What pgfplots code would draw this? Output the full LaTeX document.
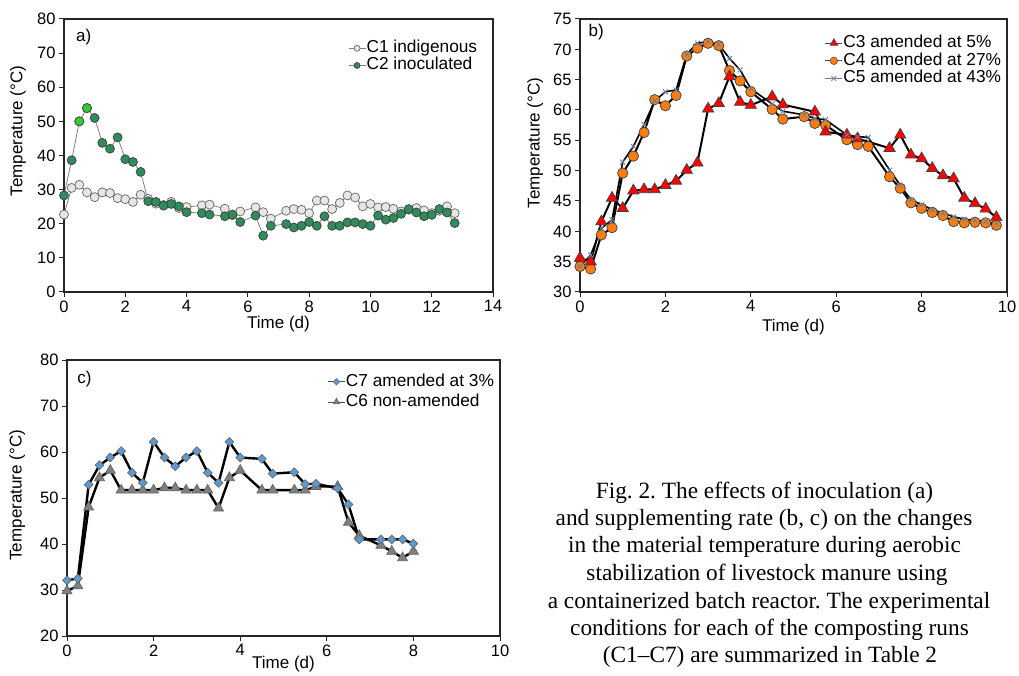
\documentclass[border=0pt]{standalone}
\usepackage{fontspec}
\setmainfont{Liberation Sans}
\newfontfamily\capfont{Liberation Serif}
\usepackage{pgfplots}
\pgfplotsset{compat=1.18}

\definecolor{gline}{HTML}{808080}
\definecolor{cone}{HTML}{E6E6E6}
\definecolor{ctwo}{HTML}{2E8B5A}
\definecolor{cbright}{HTML}{33CC33}
\definecolor{cthree}{HTML}{FF0000}
\definecolor{cfour}{HTML}{FA7D0F}
\definecolor{cfive}{HTML}{6A7FA0}
\definecolor{cseven}{HTML}{5B9BD5}
\definecolor{csix}{HTML}{7F7F7F}

\pgfplotsset{
  panel/.style={
    scale only axis,
    axis line style={line width=1.2pt, black!85},
    tick pos=left, tick align=outside, major tick length=5pt,
    every tick/.style={black!85, line width=1pt},
    tick label style={font=\fontsize{16.5}{19}\selectfont},
    label style={font=\fontsize{17}{20}\selectfont},
    /pgf/number format/assume math mode=true,
    xlabel={Time (d)}, ylabel={Temperature (°C)},
    legend cell align=left,
    legend style={draw=none, fill=none, inner sep=0pt,
      font=\fontsize{17.3}{18}\selectfont,
      nodes={inner sep=0.6pt, text depth=3.5pt, text height=12.5pt}},
    legend image code/.code={\draw[mark repeat=2, mark phase=2, ##1]
      plot coordinates {(0pt,0pt)(8.5pt,0pt)(17pt,0pt)};},
  },
}

\begin{document}
\frenchspacing
\begin{tikzpicture}
\useasboundingbox (0,0) rectangle (1019pt,675pt);

% ---------------- a) inoculation ----------------
\begin{axis}[panel, at={(64pt,383pt)}, anchor=south west,
    width=429pt, height=273pt,
    xmin=0, xmax=14, xtick={0,2,...,14},
    ymin=0, ymax=80, ytick={0,10,...,80},
    xlabel style={at={(axis description cs:0.5,-0.117)}, anchor=center},
    ylabel style={at={(axis description cs:-0.107,0.59)}, anchor=center},
    legend style={at={(axis description cs:0.965,0.925)}, anchor=north east},
    legend image post style={mark size=3pt}]
  \addplot[color=gline, line width=0.8pt, mark=*, mark size=4.5pt,
    mark options={fill=cone, draw=black!60, line width=0.7pt}]
  coordinates {(0,22.7) (0.25,30.5) (0.5,31.4) (0.75,29.2) (1,27.8) (1.25,29.2)
    (1.5,29.0) (1.75,27.5) (2,27.2) (2.25,26.4) (2.5,28.5) (2.75,27.3) (3,25.9)
    (3.25,25.5) (3.5,26.4) (3.75,24.6) (4,24.9) (4.5,25.4) (4.75,25.6) (5.25,24.4)
    (5.5,22.5) (5.75,23.6) (6.25,24.8) (6.5,23.4) (6.75,21.5) (7.25,23.8) (7.5,24.3)
    (7.75,24.1) (8,23.1) (8.25,26.8) (8.5,26.8) (8.75,24.3) (9,26.1) (9.25,28.3)
    (9.5,27.7) (9.75,25.1) (10,25.8) (10.25,24.8) (10.5,24.9) (10.75,24.4) (11,23.6)
    (11.25,24.1) (11.5,24.6) (11.75,23.9) (12,23.1) (12.25,23.8) (12.5,25.1) (12.75,23.1)};
  \addlegendentry{C1 indigenous}
  \addplot[color=gline, line width=0.8pt, mark=*, mark size=4.5pt,
    mark options={fill=ctwo, draw=black!75, line width=0.7pt}]
  coordinates {(0,28.3) (0.25,38.6) (0.5,50.0) (0.75,53.9) (1,51.0) (1.25,43.7)
    (1.5,42.0) (1.75,45.3) (2,38.9) (2.25,38.1) (2.5,35.2) (2.75,26.6) (3,26.4)
    (3.25,25.3) (3.5,25.8) (3.75,25.1) (4,23.4) (4.5,23.1) (4.75,22.7) (5.25,22.2)
    (5.5,22.7) (5.75,20.5) (6.25,22.4) (6.5,16.5) (6.75,19.4) (7.25,19.9) (7.5,18.9)
    (7.75,19.4) (8,20.5) (8.25,19.4) (8.5,22.2) (8.75,19.4) (9,19.4) (9.25,20.4)
    (9.5,20.4) (9.75,19.9) (10,19.4) (10.25,22.4) (10.5,21.2) (10.75,21.7) (11,22.9)
    (11.25,24.3) (11.5,23.3) (11.75,22.2) (12,22.6) (12.25,24.3) (12.5,23.3) (12.75,20.2)};
  \addlegendentry{C2 inoculated}
  \addplot[only marks, mark=*, mark size=4.5pt, forget plot,
    mark options={fill=cbright, draw=black!75, line width=0.7pt}]
  coordinates {(0.5,50.0) (0.75,53.9)};
  \node[anchor=west, font=\fontsize{17}{20}\selectfont] at (rel axis cs:0.02,0.934) {a)};
\end{axis}

% ---------------- b) supplementing rate ----------------
\begin{axis}[panel, at={(580pt,383pt)}, anchor=south west,
    width=427pt, height=273pt,
    xmin=0, xmax=10, xtick={0,2,...,10},
    ymin=30, ymax=75, ytick={30,35,...,75},
    xlabel style={at={(axis description cs:0.5,-0.128)}, anchor=center},
    ylabel style={at={(axis description cs:-0.105,0.546)}, anchor=center},
    legend style={at={(axis description cs:0.988,0.944)}, anchor=north east,
      row sep=0.5pt}]
  \addlegendimage{color=black!70, line width=0.7pt, mark=triangle*, mark size=4.5pt,
    mark options={fill=cthree, draw=black!70, line width=0.5pt}}
  \addlegendentry{C3 amended at 5\%}
  \addlegendimage{color=black!70, line width=0.7pt, mark=*, mark size=3.8pt,
    mark options={fill=cfour, draw=black!70, line width=0.5pt}}
  \addlegendentry{C4 amended at 27\%}
  \addlegendimage{color=cfive, line width=0.7pt, mark=x, mark size=3.5pt,
    mark options={draw=cfive, line width=0.8pt}}
  \addlegendentry{C5 amended at 43\%}
  % C4
  \addplot[forget plot, black, line width=2pt, mark=*, mark size=5.2pt,
    mark options={fill=cfour, draw=black!75, line width=0.7pt}]
  coordinates {(0,34.2) (0.25,33.8) (0.5,39.4) (0.75,40.6) (1,49.6) (1.25,52.4)
    (1.5,56.3) (1.75,61.7) (2,60.7) (2.25,62.4) (2.5,68.9) (2.75,70.2) (3,71.0)
    (3.25,70.6) (3.5,66.5) (3.75,64.8) (4,63.0) (4.5,60.1) (4.75,58.5) (5.25,58.9)
    (5.5,57.8) (5.75,57.5) (6.25,55.1) (6.5,54.3) (6.75,54.0) (7.25,49.0) (7.5,47.1)
    (7.75,44.7) (8,43.8) (8.25,43.1) (8.5,42.6) (8.75,41.6) (9,41.4) (9.25,41.5)
    (9.5,41.4) (9.75,41.0)};
  % C3
  \addplot[forget plot, black, line width=2pt, mark=triangle*, mark size=6.5pt,
    mark options={fill=cthree, draw=black!75, line width=0.7pt}]
  coordinates {(0,35.6) (0.25,35.0) (0.5,41.6) (0.75,45.5) (1,43.8) (1.25,46.7)
    (1.5,46.9) (1.75,46.9) (2,47.6) (2.25,48.3) (2.5,50.1) (2.75,51.3) (3,60.2)
    (3.25,61.1) (3.5,65.5) (3.75,61.3) (4,60.8) (4.5,62.2) (4.75,60.9) (5.5,59.7)
    (5.75,56.4) (6.25,55.9) (6.5,55.3) (7.25,53.7) (7.5,55.9) (7.75,52.6) (8,52.0)
    (8.25,50.4) (8.5,49.2) (8.75,48.7) (9,45.5) (9.25,44.6) (9.5,43.7) (9.75,42.3)};
  % C5
  \addplot[forget plot, black, line width=1.6pt, mark=x, mark size=3.5pt,
    mark options={draw=cfive, line width=0.9pt}]
  coordinates {(0,34.2) (0.25,36.1) (0.5,40.5) (0.75,41.9) (1,51.4) (1.25,54.0)
    (1.5,57.6) (1.75,61.5) (2,63.0) (2.25,63.3) (2.5,69.2) (2.75,71.0) (3,71.3)
    (3.25,70.8) (3.5,68.5) (3.75,66.6) (4,63.5) (4.5,61.0) (4.75,59.8) (5.25,59.2)
    (5.5,58.6) (5.75,58.4) (6.25,55.9) (6.5,55.6) (6.75,55.5) (7.25,50.1) (7.5,47.6)
    (7.75,45.2) (8,44.4) (8.25,43.6) (8.5,43.0) (8.75,42.4) (9,42.0) (9.25,41.8)
    (9.5,41.6) (9.75,41.3)};
  \node[anchor=west, font=\fontsize{17}{20}\selectfont] at (rel axis cs:0.012,0.952) {b)};
\end{axis}

% ---------------- c) supplementing rate ----------------
\begin{axis}[panel, at={(67pt,39pt)}, anchor=south west,
    width=433pt, height=276pt,
    xmin=0, xmax=10, xtick={0,2,...,10},
    ymin=20, ymax=80, ytick={20,30,...,80},
    xlabel style={at={(axis description cs:0.5,-0.103)}, anchor=center},
    ylabel style={at={(axis description cs:-0.115,0.51)}, anchor=center},
    legend style={at={(axis description cs:0.988,0.953)}, anchor=north east,
      row sep=3pt}]
  \addlegendimage{color=black!70, line width=0.7pt, mark=square*, mark size=2.3pt,
    mark options={rotate=45, fill=cseven, draw=black!60, line width=0.5pt}}
  \addlegendentry{C7 amended at 3\%}
  \addlegendimage{color=black!70, line width=0.7pt, mark=triangle*, mark size=3.8pt,
    mark options={fill=csix, draw=black!60, line width=0.5pt}}
  \addlegendentry{C6 non-amended}
  % C6
  \addplot[forget plot, black, line width=2.4pt, mark=triangle*, mark size=5.8pt,
    mark options={fill=csix, draw=black!60, line width=0.7pt}]
  coordinates {(0,29.8) (0.25,30.9) (0.5,48.0) (0.75,54.4) (1,56.0) (1.25,51.7)
    (1.5,51.7) (1.75,51.7) (2,51.7) (2.25,52.2) (2.5,52.2) (2.75,51.7) (3,51.7)
    (3.25,51.7) (3.5,47.8) (3.75,54.4) (4,56.0) (4.5,51.7) (4.75,51.7) (5.25,51.7)
    (5.5,51.7) (5.75,52.5) (6.25,52.5) (6.5,44.7) (6.75,41.8) (7.25,39.7) (7.5,38.4)
    (7.75,37.0) (8,38.4)};
  % C7
  \addplot[forget plot, black, line width=2.4pt, mark=square*, mark size=3.1pt,
    mark options={rotate=45, fill=cseven, draw=black!60, line width=0.7pt}]
  coordinates {(0,32.1) (0.25,32.5) (0.5,52.9) (0.75,57.1) (1,58.8) (1.25,60.2)
    (1.5,55.5) (1.75,53.3) (2,62.2) (2.25,58.8) (2.5,56.9) (2.75,58.8) (3,60.2)
    (3.25,55.5) (3.5,53.3) (3.75,62.2) (4,58.8) (4.5,58.5) (4.75,55.3) (5.25,55.6)
    (5.5,53.0) (5.75,53.1) (6.25,52.1) (6.5,48.6) (6.75,41.0) (7.25,41.0) (7.5,41.0)
    (7.75,41.0) (8,40.1)};
  \node[anchor=west, font=\fontsize{17}{20}\selectfont] at (rel axis cs:0.016,0.93) {c)};
\end{axis}

% ---------------- caption ----------------
\begin{scope}[every node/.style={anchor=base, inner sep=0pt,
    font=\capfont\fontsize{23.3}{27}\selectfont}]
  \node at (764.5pt,177pt) {Fig. 2. The effects of inoculation (a)};
  \node at (764pt,149.3pt) {and supplementing rate (b, c) on the changes};
  \node at (764.5pt,122.3pt) {in the material temperature during aerobic};
  \node at (767pt,94.8pt) {stabilization of livestock manure using};
  \node at (769pt,67pt) {a containerized batch reactor. The experimental};
  \node at (769.5pt,39.3pt) {conditions for each of the composting runs};
  \node at (770pt,12.3pt) {(C1–C7) are summarized in Table 2};
\end{scope}
\end{tikzpicture}
\end{document}
